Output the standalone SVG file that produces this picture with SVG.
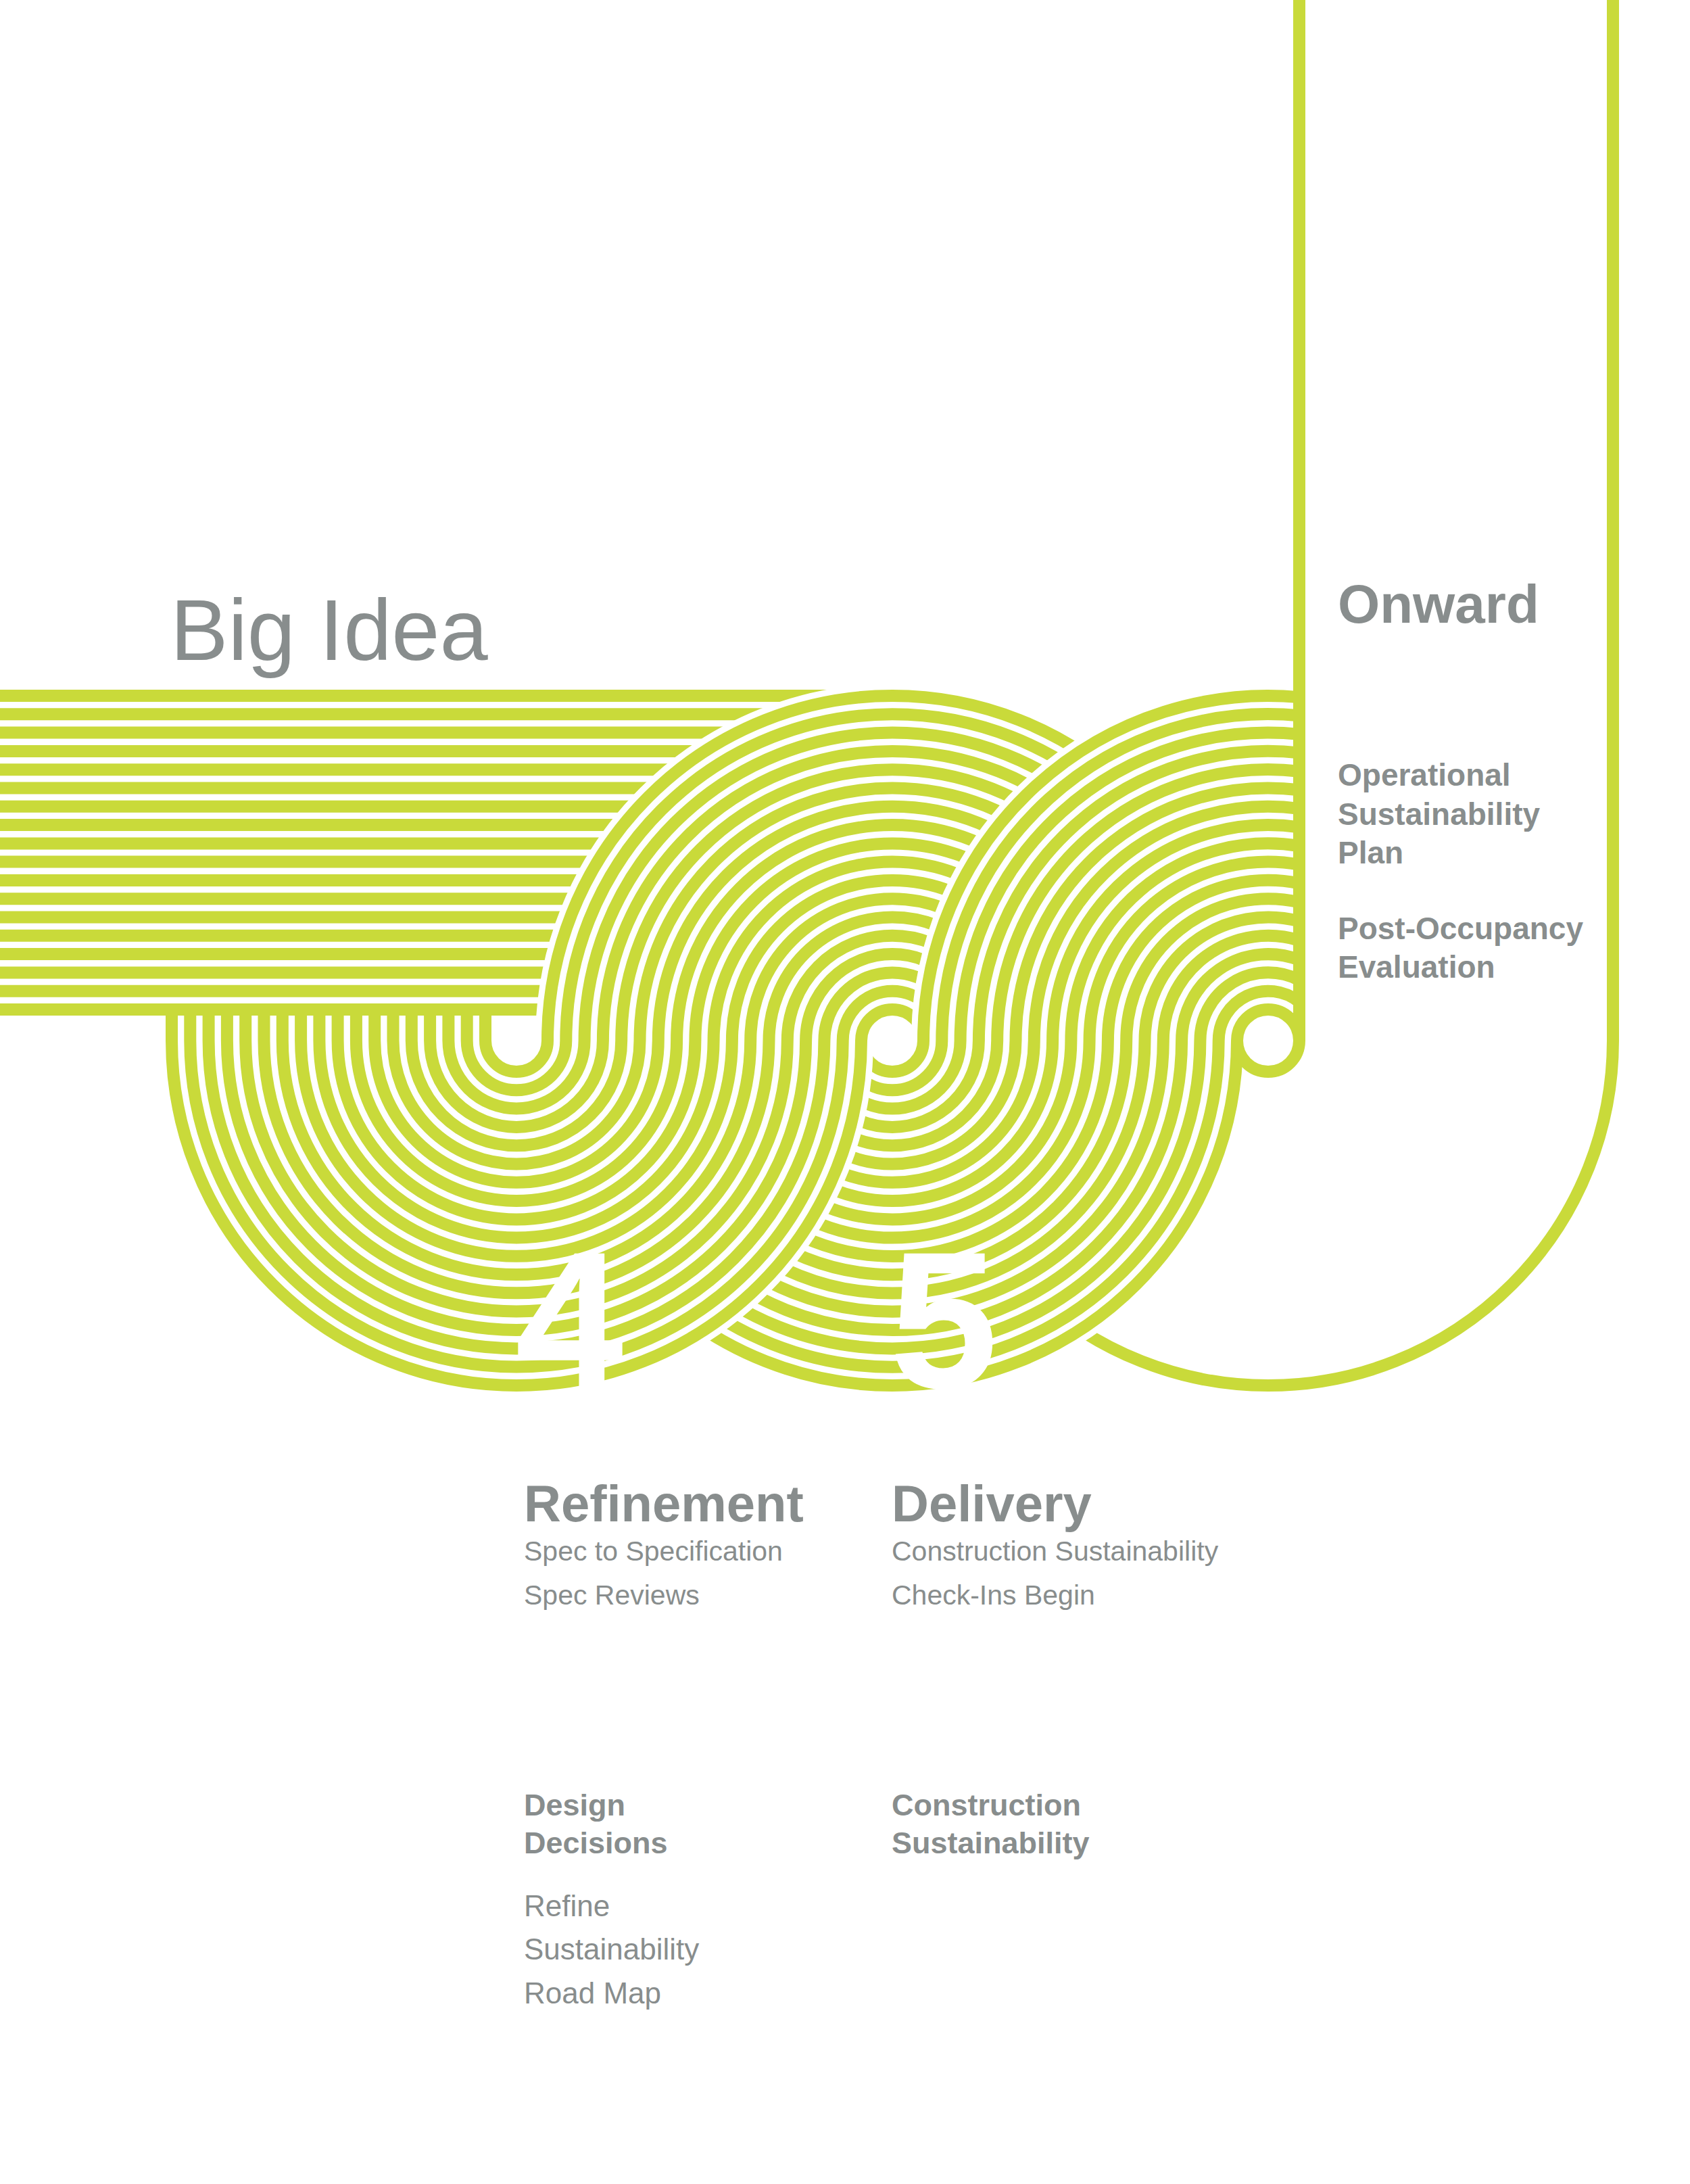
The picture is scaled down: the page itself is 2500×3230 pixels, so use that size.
<svg xmlns="http://www.w3.org/2000/svg" xmlns:xlink="http://www.w3.org/1999/xlink" width="2500" height="3230" viewBox="0 0 2500 3230">
<style>
.g{fill:none;stroke:#c9da3a;stroke-width:18;stroke-linecap:butt}
.h{fill:none;stroke:#ffffff;stroke-width:36;stroke-linecap:butt}
.t{fill:#888d8d;font-family:"Liberation Sans",Arial,sans-serif}
.b{font-weight:bold}
.num{fill:#ffffff;font-family:"Liberation Sans",Arial,sans-serif;font-weight:bold;font-size:288px}
</style>
<defs>
<g id="back">
<path d="M1320 1493 A46 46 0 0 1 1366 1539"/>
<path d="M1320 1465.7 A73.3 73.3 0 0 1 1393.3 1539"/>
<path d="M1320 1438.4 A100.6 100.6 0 0 1 1420.6 1539"/>
<path d="M1320 1411.1 A127.9 127.9 0 0 1 1447.9 1539"/>
<path d="M1320 1383.8 A155.2 155.2 0 0 1 1475.2 1539"/>
<path d="M1320 1356.5 A182.5 182.5 0 0 1 1502.5 1539"/>
<path d="M1320 1329.2 A209.8 209.8 0 0 1 1529.8 1539"/>
<path d="M1320 1301.9 A237.1 237.1 0 0 1 1557.1 1539"/>
<path d="M1320 1274.6 A264.4 264.4 0 0 1 1584.4 1539"/>
<path d="M1320 1247.4 A291.6 291.6 0 0 1 1611.6 1539"/>
<path d="M1320 1220.1 A318.9 318.9 0 0 1 1638.9 1539"/>
<path d="M1320 1192.8 A346.2 346.2 0 0 1 1666.2 1539"/>
<path d="M1320 1165.5 A373.5 373.5 0 0 1 1693.5 1539"/>
<path d="M1320 1138.2 A400.8 400.8 0 0 1 1720.8 1539"/>
<path d="M1320 1110.9 A428.1 428.1 0 0 1 1748.1 1539"/>
<path d="M1320 1083.6 A455.4 455.4 0 0 1 1775.4 1539"/>
<path d="M1320 1056.3 A482.7 482.7 0 0 1 1802.7 1539"/>
<path d="M1320 1029 A510 510 0 0 1 1830 1539"/>
<path d="M1274 1539 A46 46 0 0 0 1320 1585"/>
<path d="M1246.7 1539 A73.3 73.3 0 0 0 1320 1612.3"/>
<path d="M1219.4 1539 A100.6 100.6 0 0 0 1320 1639.6"/>
<path d="M1192.1 1539 A127.9 127.9 0 0 0 1320 1666.9"/>
<path d="M1164.8 1539 A155.2 155.2 0 0 0 1320 1694.2"/>
<path d="M1137.5 1539 A182.5 182.5 0 0 0 1320 1721.5"/>
<path d="M1110.2 1539 A209.8 209.8 0 0 0 1320 1748.8"/>
<path d="M1082.9 1539 A237.1 237.1 0 0 0 1320 1776.1"/>
<path d="M1055.6 1539 A264.4 264.4 0 0 0 1320 1803.4"/>
<path d="M1028.4 1539 A291.6 291.6 0 0 0 1320 1830.6"/>
<path d="M1001.1 1539 A318.9 318.9 0 0 0 1320 1857.9"/>
<path d="M973.8 1539 A346.2 346.2 0 0 0 1320 1885.2"/>
<path d="M946.5 1539 A373.5 373.5 0 0 0 1320 1912.5"/>
<path d="M919.2 1539 A400.8 400.8 0 0 0 1320 1939.8"/>
<path d="M891.9 1539 A428.1 428.1 0 0 0 1320 1967.1"/>
<path d="M864.6 1539 A455.4 455.4 0 0 0 1320 1994.4"/>
<path d="M837.3 1539 A482.7 482.7 0 0 0 1320 2021.7"/>
<path d="M810 1539 A510 510 0 0 0 1320 2049"/>
</g>
<g id="front">
<path d="M718 1502 V1539 A46 46 0 0 0 810 1539 A510 510 0 0 1 1320 1029"/>
<path d="M690.7 1502 V1539 A73.3 73.3 0 0 0 837.3 1539 A482.7 482.7 0 0 1 1320 1056.3"/>
<path d="M663.4 1502 V1539 A100.6 100.6 0 0 0 864.6 1539 A455.4 455.4 0 0 1 1320 1083.6"/>
<path d="M636.1 1502 V1539 A127.9 127.9 0 0 0 891.9 1539 A428.1 428.1 0 0 1 1320 1110.9"/>
<path d="M608.8 1502 V1539 A155.2 155.2 0 0 0 919.2 1539 A400.8 400.8 0 0 1 1320 1138.2"/>
<path d="M581.5 1502 V1539 A182.5 182.5 0 0 0 946.5 1539 A373.5 373.5 0 0 1 1320 1165.5"/>
<path d="M554.2 1502 V1539 A209.8 209.8 0 0 0 973.8 1539 A346.2 346.2 0 0 1 1320 1192.8"/>
<path d="M526.9 1502 V1539 A237.1 237.1 0 0 0 1001.1 1539 A318.9 318.9 0 0 1 1320 1220.1"/>
<path d="M499.6 1502 V1539 A264.4 264.4 0 0 0 1028.4 1539 A291.6 291.6 0 0 1 1320 1247.4"/>
<path d="M472.4 1502 V1539 A291.6 291.6 0 0 0 1055.6 1539 A264.4 264.4 0 0 1 1320 1274.6"/>
<path d="M445.1 1502 V1539 A318.9 318.9 0 0 0 1082.9 1539 A237.1 237.1 0 0 1 1320 1301.9"/>
<path d="M417.8 1502 V1539 A346.2 346.2 0 0 0 1110.2 1539 A209.8 209.8 0 0 1 1320 1329.2"/>
<path d="M390.5 1502 V1539 A373.5 373.5 0 0 0 1137.5 1539 A182.5 182.5 0 0 1 1320 1356.5"/>
<path d="M363.2 1502 V1539 A400.8 400.8 0 0 0 1164.8 1539 A155.2 155.2 0 0 1 1320 1383.8"/>
<path d="M335.9 1502 V1539 A428.1 428.1 0 0 0 1192.1 1539 A127.9 127.9 0 0 1 1320 1411.1"/>
<path d="M308.6 1502 V1539 A455.4 455.4 0 0 0 1219.4 1539 A100.6 100.6 0 0 1 1320 1438.4"/>
<path d="M281.3 1502 V1539 A482.7 482.7 0 0 0 1246.7 1539 A73.3 73.3 0 0 1 1320 1465.7"/>
<path d="M254 1502 V1539 A510 510 0 0 0 1274 1539 A46 46 0 0 1 1320 1493"/>
<path d="M1320 1585 A46 46 0 0 0 1366 1539 A510 510 0 0 1 1922 1031.1"/>
<path d="M1320 1612.3 A73.3 73.3 0 0 0 1393.3 1539 A482.7 482.7 0 0 1 1922 1058.3"/>
<path d="M1320 1639.6 A100.6 100.6 0 0 0 1420.6 1539 A455.4 455.4 0 0 1 1922 1085.9"/>
<path d="M1320 1666.9 A127.9 127.9 0 0 0 1447.9 1539 A428.1 428.1 0 0 1 1922 1113.4"/>
<path d="M1320 1694.2 A155.2 155.2 0 0 0 1475.2 1539 A400.8 400.8 0 0 1 1922 1140.8"/>
<path d="M1320 1721.5 A182.5 182.5 0 0 0 1502.5 1539 A373.5 373.5 0 0 1 1922 1168.3"/>
<path d="M1320 1748.8 A209.8 209.8 0 0 0 1529.8 1539 A346.2 346.2 0 0 1 1922 1195.9"/>
<path d="M1320 1776.1 A237.1 237.1 0 0 0 1557.1 1539 A318.9 318.9 0 0 1 1922 1223.4"/>
<path d="M1320 1803.4 A264.4 264.4 0 0 0 1584.4 1539 A291.6 291.6 0 0 1 1922 1251"/>
<path d="M1320 1830.6 A291.6 291.6 0 0 0 1611.6 1539 A264.4 264.4 0 0 1 1922 1278.6"/>
<path d="M1320 1857.9 A318.9 318.9 0 0 0 1638.9 1539 A237.1 237.1 0 0 1 1922 1306.4"/>
<path d="M1320 1885.2 A346.2 346.2 0 0 0 1666.2 1539 A209.8 209.8 0 0 1 1922 1334.3"/>
<path d="M1320 1912.5 A373.5 373.5 0 0 0 1693.5 1539 A182.5 182.5 0 0 1 1922 1362.4"/>
<path d="M1320 1939.8 A400.8 400.8 0 0 0 1720.8 1539 A155.2 155.2 0 0 1 1922 1390.8"/>
<path d="M1320 1967.1 A428.1 428.1 0 0 0 1748.1 1539 A127.9 127.9 0 0 1 1922 1419.7"/>
<path d="M1320 1994.4 A455.4 455.4 0 0 0 1775.4 1539 A100.6 100.6 0 0 1 1922 1449.5"/>
<path d="M1320 2021.7 A482.7 482.7 0 0 0 1802.7 1539 A73.3 73.3 0 0 1 1922 1481.9"/>
<path d="M1320 2049 A510 510 0 0 0 1830 1539 A46 46 0 0 1 1922 1539"/>
</g>
</defs>
<g id="connectors">
<path id="j-outer" class="g" d="M2386 0 V1539 A510 510 0 0 1 1366 1539"/>
<g id="band" class="g">
<path d="M0 1493 H1320"/><path d="M0 1465.7 H1320"/><path d="M0 1438.4 H1320"/><path d="M0 1411.1 H1320"/>
<path d="M0 1383.8 H1320"/><path d="M0 1356.5 H1320"/><path d="M0 1329.2 H1320"/><path d="M0 1301.9 H1320"/>
<path d="M0 1274.6 H1320"/><path d="M0 1247.4 H1320"/><path d="M0 1220.1 H1320"/><path d="M0 1192.8 H1320"/>
<path d="M0 1165.5 H1320"/><path d="M0 1138.2 H1320"/><path d="M0 1110.9 H1320"/><path d="M0 1083.6 H1320"/>
<path d="M0 1056.3 H1320"/><path d="M0 1029 H1320"/>
</g>
<use href="#back" class="h"/>
<use href="#back" class="g"/>
<use href="#front" class="h"/>
<use href="#front" class="g"/>
<path id="j-inner" class="g" d="M1922 0 V1539 A46 46 0 0 1 1830 1539"/>
</g>
<g id="numbers">
<text class="num" x="762" y="2052">4</text>
<text class="num" x="1316" y="2052">5</text>
</g>
<g id="big-idea"><text class="t" x="252" y="976" font-size="128" font-weight="300">Big Idea</text></g>
<g id="onward">
<text class="t b" x="1979" y="921" font-size="80">Onward</text>
<text class="t b" x="1979" y="1162" font-size="46">Operational</text>
<text class="t b" x="1979" y="1220" font-size="46">Sustainability</text>
<text class="t b" x="1979" y="1277" font-size="46">Plan</text>
<text class="t b" x="1979" y="1389" font-size="46">Post-Occupancy</text>
<text class="t b" x="1979" y="1446" font-size="46">Evaluation</text>
</g>
<g id="refinement">
<text class="t b" x="775" y="2250" font-size="76">Refinement</text>
<text class="t" x="775" y="2308" font-size="41">Spec to Specification</text>
<text class="t" x="775" y="2373" font-size="41">Spec Reviews</text>
<text class="t b" x="775" y="2685" font-size="45">Design</text>
<text class="t b" x="775" y="2741" font-size="45">Decisions</text>
<text class="t" x="775" y="2834" font-size="44">Refine</text>
<text class="t" x="775" y="2898" font-size="44">Sustainability</text>
<text class="t" x="775" y="2963" font-size="44">Road Map</text>
</g>
<g id="delivery">
<text class="t b" x="1319" y="2250" font-size="76">Delivery</text>
<text class="t" x="1319" y="2308" font-size="41">Construction Sustainability</text>
<text class="t" x="1319" y="2373" font-size="41">Check-Ins Begin</text>
<text class="t b" x="1319" y="2685" font-size="45">Construction</text>
<text class="t b" x="1319" y="2741" font-size="45">Sustainability</text>
</g>
</svg>
